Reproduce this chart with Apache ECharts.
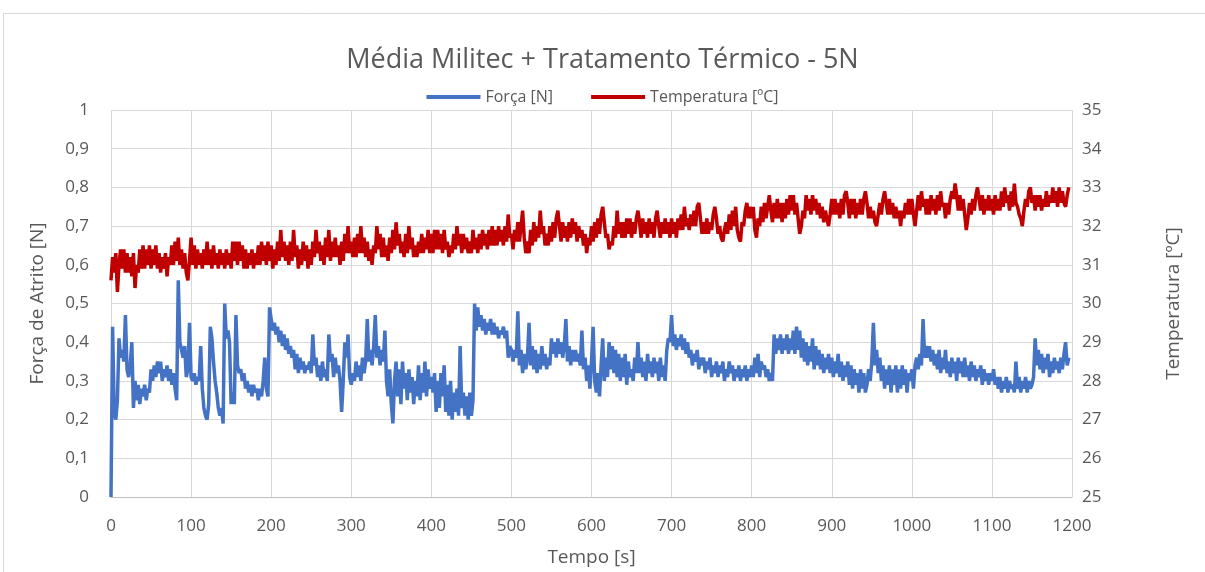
<!DOCTYPE html>
<html>
<head>
<meta charset="utf-8">
<script src="https://cdn.jsdelivr.net/npm/echarts@6/dist/echarts.min.js"></script>
<style>html,body{margin:0;padding:0;background:#fff}#c{width:1205px;height:572px}</style>
</head>
<body>
<div id="c"></div>
<script>
const title = 'Média Militec + Tratamento Térmico - 5N';
const seriesNames = ['Força [N]', 'Temperatura [ºC]'];
const timeStep = 2; // seconds between samples
const xTicks = [0, 1200, 100];
const leftAxis = [0, 1, 0.1];
const rightAxis = [25, 35, 1];
// Força [N], one value every 2 s (rows of 20 s)
const force = [
0,0.44,0.22,0.2,0.25,0.41,0.36,0.38,0.35,0.47,
0.33,0.31,0.34,0.4,0.23,0.3,0.25,0.29,0.24,0.28,
0.26,0.29,0.25,0.28,0.27,0.33,0.3,0.34,0.31,0.35,
0.32,0.35,0.3,0.33,0.31,0.34,0.3,0.33,0.29,0.32,
0.28,0.25,0.56,0.4,0.38,0.36,0.39,0.31,0.33,0.45,
0.31,0.3,0.32,0.29,0.31,0.3,0.39,0.28,0.23,0.21,
0.2,0.24,0.44,0.41,0.35,0.3,0.27,0.23,0.21,0.23,
0.19,0.5,0.41,0.43,0.4,0.24,0.27,0.24,0.47,0.34,
0.32,0.33,0.3,0.32,0.28,0.3,0.27,0.29,0.26,0.29,
0.27,0.28,0.25,0.28,0.26,0.3,0.36,0.28,0.26,0.49,
0.46,0.43,0.45,0.42,0.44,0.4,0.43,0.39,0.42,0.38,
0.41,0.37,0.39,0.36,0.38,0.33,0.37,0.32,0.36,0.33,
0.35,0.32,0.34,0.33,0.35,0.32,0.42,0.34,0.36,0.31,
0.34,0.3,0.35,0.31,0.33,0.3,0.42,0.35,0.37,0.31,
0.36,0.32,0.34,0.3,0.22,0.3,0.4,0.36,0.42,0.31,
0.29,0.32,0.3,0.35,0.31,0.34,0.3,0.36,0.32,0.35,
0.46,0.35,0.38,0.34,0.39,0.47,0.36,0.39,0.34,0.38,
0.35,0.43,0.3,0.26,0.33,0.24,0.19,0.3,0.35,0.26,
0.33,0.24,0.35,0.28,0.32,0.25,0.33,0.27,0.31,0.24,
0.3,0.26,0.34,0.25,0.32,0.27,0.35,0.26,0.33,0.28,
0.31,0.27,0.32,0.22,0.3,0.23,0.32,0.26,0.34,0.22,
0.29,0.21,0.3,0.2,0.27,0.22,0.28,0.21,0.39,0.23,
0.27,0.21,0.26,0.2,0.27,0.21,0.25,0.5,0.43,0.49,
0.44,0.47,0.43,0.46,0.42,0.45,0.43,0.46,0.42,0.45,
0.42,0.44,0.41,0.43,0.42,0.44,0.41,0.43,0.36,0.39,
0.38,0.35,0.38,0.36,0.48,0.34,0.38,0.32,0.37,0.33,
0.36,0.45,0.34,0.39,0.33,0.38,0.32,0.37,0.33,0.39,
0.34,0.37,0.33,0.36,0.34,0.41,0.37,0.4,0.36,0.41,
0.37,0.4,0.36,0.39,0.46,0.35,0.39,0.34,0.38,0.35,
0.38,0.35,0.37,0.34,0.43,0.33,0.36,0.3,0.34,0.28,
0.35,0.44,0.3,0.27,0.32,0.26,0.34,0.41,0.3,0.36,
0.31,0.4,0.33,0.39,0.32,0.38,0.31,0.37,0.3,0.36,
0.31,0.37,0.29,0.35,0.31,0.33,0.3,0.36,0.32,0.4,
0.32,0.36,0.31,0.35,0.3,0.37,0.32,0.35,0.31,0.36,
0.32,0.35,0.3,0.36,0.31,0.34,0.3,0.38,0.41,0.4,
0.47,0.39,0.42,0.38,0.41,0.39,0.42,0.38,0.41,0.37,
0.4,0.36,0.38,0.34,0.37,0.35,0.38,0.33,0.36,0.34,
0.36,0.32,0.35,0.33,0.36,0.31,0.34,0.32,0.35,0.31,
0.34,0.32,0.35,0.3,0.33,0.31,0.35,0.32,0.34,0.3,
0.33,0.31,0.34,0.3,0.33,0.31,0.34,0.3,0.33,0.31,
0.34,0.31,0.36,0.32,0.37,0.31,0.35,0.33,0.34,0.31,
0.33,0.3,0.32,0.3,0.42,0.37,0.41,0.38,0.42,0.37,
0.41,0.38,0.42,0.37,0.41,0.38,0.43,0.37,0.44,0.38,
0.43,0.36,0.41,0.35,0.4,0.34,0.39,0.35,0.41,0.33,
0.39,0.34,0.38,0.33,0.37,0.32,0.36,0.33,0.37,0.32,
0.36,0.31,0.35,0.32,0.37,0.31,0.35,0.3,0.34,0.31,
0.35,0.29,0.34,0.28,0.33,0.29,0.32,0.27,0.33,0.28,
0.32,0.27,0.29,0.33,0.3,0.35,0.45,0.34,0.38,0.32,
0.36,0.3,0.34,0.28,0.33,0.29,0.34,0.27,0.33,0.29,
0.34,0.27,0.33,0.28,0.34,0.29,0.33,0.27,0.32,0.3,
0.33,0.28,0.34,0.36,0.33,0.37,0.34,0.46,0.36,0.39,
0.36,0.39,0.35,0.38,0.34,0.37,0.33,0.38,0.32,0.36,
0.33,0.38,0.32,0.35,0.31,0.36,0.32,0.35,0.3,0.36,
0.32,0.35,0.31,0.36,0.31,0.34,0.3,0.35,0.31,0.34,
0.3,0.33,0.31,0.34,0.29,0.33,0.3,0.32,0.29,0.32,
0.3,0.33,0.29,0.31,0.28,0.31,0.27,0.3,0.28,0.31,
0.27,0.3,0.28,0.29,0.27,0.35,0.28,0.31,0.27,0.3,
0.28,0.31,0.27,0.3,0.28,0.29,0.31,0.41,0.34,0.38,
0.33,0.37,0.32,0.36,0.33,0.37,0.31,0.35,0.32,0.36,
0.33,0.35,0.32,0.36,0.33,0.37,0.4,0.34,0.36
];
// Temperatura [ºC], one value every 2 s (rows of 20 s)
const temperature = [
30.6,31.2,30.8,31.3,30.3,31.0,31.4,30.9,31.4,30.8,
31.3,30.8,31.2,30.7,31.3,30.4,31.0,30.8,31.4,30.9,
31.5,30.9,31.4,31.0,31.5,30.9,31.4,31.0,31.5,30.9,
31.3,30.8,31.2,30.9,31.3,30.7,31.2,31.0,31.5,31.0,
31.6,31.1,31.7,31.0,31.4,30.9,31.3,30.8,30.6,31.1,
31.7,31.0,31.5,30.9,31.4,31.0,31.3,30.9,31.4,31.0,
31.6,31.0,31.4,30.9,31.5,31.0,31.3,30.9,31.4,31.0,
31.3,30.9,31.4,31.0,31.3,30.9,31.6,31.1,31.6,31.0,
31.6,31.1,31.5,30.9,31.4,30.9,31.3,31.0,31.4,30.9,
31.3,31.0,31.5,31.0,31.6,31.1,31.5,31.0,31.6,31.1,
31.5,30.9,31.4,31.0,31.6,31.1,31.9,31.2,31.6,31.1,
31.5,31.0,31.6,31.1,31.9,31.2,31.5,30.9,31.4,31.0,
31.6,31.1,31.5,30.9,31.4,31.0,31.6,31.2,31.9,31.3,
31.6,31.1,31.5,31.0,31.7,31.2,31.9,31.1,31.6,31.2,
31.7,31.2,31.5,31.0,31.6,31.1,31.8,31.3,32.0,31.3,
31.6,31.2,31.7,31.2,31.8,31.3,32.0,31.3,31.7,31.2,
31.6,31.1,31.4,31.0,31.5,31.3,32.0,31.4,31.8,31.2,
31.7,31.2,31.5,31.1,31.7,31.3,31.9,31.4,32.1,31.5,
31.8,31.3,31.6,31.2,31.8,31.3,32.0,31.4,31.7,31.2,
31.5,31.2,31.6,31.3,31.8,31.3,31.7,31.4,31.9,31.3,
31.8,31.3,31.9,31.4,31.9,31.4,31.8,31.3,31.9,31.4,
31.6,31.2,31.5,31.3,31.8,31.4,32.0,31.5,31.8,31.3,
31.8,31.4,31.7,31.3,31.6,31.3,31.9,31.4,31.7,31.3,
31.8,31.4,31.9,31.5,31.8,31.4,31.9,31.5,32.0,31.5,
31.9,31.5,32.0,31.6,31.9,31.5,32.0,31.6,32.3,31.7,
31.8,31.4,31.9,31.6,32.1,31.6,32.0,32.4,31.7,31.3,
31.6,31.3,31.9,31.5,32.1,31.6,32.0,31.7,32.4,31.8,
32.0,31.5,31.8,31.5,32.0,31.6,32.1,31.7,32.2,32.4,
32.0,31.6,32.1,31.7,32.0,31.6,32.1,31.7,32.2,31.8,
32.1,31.6,32.0,31.7,31.9,31.5,31.8,31.3,31.7,31.5,
32.0,31.6,32.1,31.7,32.2,31.8,32.3,32.5,32.1,31.7,
31.8,31.4,31.6,31.5,32.0,31.7,32.4,31.8,32.1,31.7,
32.1,31.7,32.2,31.8,32.2,31.7,32.1,31.8,32.2,32.4,
32.1,31.7,32.2,31.8,32.1,31.7,32.2,31.8,32.1,31.7,
32.2,32.4,32.0,31.7,32.1,31.8,32.2,31.8,32.1,31.7,
32.2,31.8,32.1,31.7,32.2,31.9,32.3,31.9,32.5,32.0,
32.2,31.9,32.3,32.0,32.4,32.0,32.5,32.6,32.2,31.8,
32.1,31.8,32.2,31.8,32.1,31.9,32.3,32.5,32.2,31.8,
32.0,31.7,31.6,31.9,32.1,31.8,32.3,31.9,32.4,32.0,
32.5,31.9,31.7,31.6,32.1,32.0,32.4,32.6,32.2,32.5,
32.2,32.5,31.9,31.7,32.2,32.0,32.5,32.1,32.6,32.2,
32.5,32.8,32.4,32.1,32.6,32.2,32.7,32.2,32.6,32.1,
32.6,32.2,32.7,32.3,32.8,32.4,32.8,32.3,32.6,32.2,
31.8,32.0,32.4,32.2,32.8,32.4,32.7,32.3,32.8,32.4,
32.7,32.3,32.6,32.2,32.5,32.1,32.4,32.2,32.0,32.3,
32.7,32.3,32.7,32.3,32.6,32.2,32.7,32.3,32.8,32.9,
32.6,32.2,32.7,32.3,32.7,32.2,32.6,32.3,32.7,32.3,
32.7,32.9,32.6,32.2,32.5,32.2,32.4,32.1,32.0,32.3,
32.6,32.3,32.7,32.9,32.6,32.3,32.7,32.3,32.6,32.2,
32.5,32.2,32.4,32.0,32.4,32.2,32.6,32.3,32.7,32.3,
32.7,32.3,32.0,32.4,32.8,32.4,32.9,32.5,32.7,32.3,
32.7,32.3,32.8,32.4,32.7,32.3,32.8,32.4,32.9,32.5,
32.6,32.2,32.6,32.3,32.7,32.9,32.7,33.1,32.8,32.4,
32.8,32.4,32.7,32.3,31.9,32.2,32.6,32.3,32.7,32.4,
32.8,33.0,32.7,32.4,32.8,32.3,32.7,32.4,32.8,32.4,
32.7,32.3,32.8,32.4,32.7,32.4,32.9,32.5,33.0,32.6,
32.8,32.4,32.9,32.5,33.1,32.6,32.5,32.3,32.2,32.0,
32.4,32.7,32.5,32.9,33.0,32.6,32.8,32.4,32.8,32.5,
32.8,32.4,32.7,32.5,32.9,32.5,32.8,32.6,33.0,32.6,
32.9,32.5,33.0,32.6,32.9,32.6,32.5,32.8,33.0
];

const toPairs = arr => arr.map((v, i) => [i * timeStep, v]);
const comma = v => String(Math.round(v * 10) / 10).replace('.', ',');
const FONT = '"Open Sans", "Noto Sans", sans-serif';
const TXT = '#595959';

const chart = echarts.init(document.getElementById('c'), null, {renderer: 'canvas'});
chart.setOption({
  animation: false,
  backgroundColor: '#fff',
  textStyle: {fontFamily: FONT},
  graphic: [{
    type: 'rect', shape: {x: 3.5, y: 13.5, width: 1300, height: 700},
    style: {fill: 'none', stroke: '#d9d9d9', lineWidth: 1}, silent: true, z: -10
  }],
  title: {
    text: title, left: 'center', top: 42,
    textStyle: {fontFamily: FONT, fontSize: 27, fontWeight: 'normal', color: TXT}
  },
  legend: {
    top: 84, left: 'center', itemWidth: 54, itemHeight: 4, itemGap: 38,
    icon: 'rect',
    textStyle: {fontFamily: FONT, fontSize: 16, color: TXT},
    data: seriesNames
  },
  grid: {left: 111, right: 133, top: 110, bottom: 72},
  xAxis: {
    type: 'value', min: xTicks[0], max: xTicks[1], interval: xTicks[2],
    name: 'Tempo [s]', nameLocation: 'middle', nameGap: 51,
    nameTextStyle: {fontFamily: FONT, fontSize: 19, color: TXT},
    axisLine: {show: true, lineStyle: {color: '#bfbfbf', width: 1}},
    axisTick: {show: false},
    axisLabel: {fontFamily: FONT, fontSize: 17, color: TXT, margin: 21, formatter: v => String(v)},
    splitLine: {show: true, lineStyle: {color: '#d9d9d9', width: 1}}
  },
  yAxis: [{
    type: 'value', min: leftAxis[0], max: leftAxis[1], interval: leftAxis[2],
    name: 'Força de Atrito [N]', nameLocation: 'middle', nameGap: 64, nameRotate: 90,
    nameTextStyle: {fontFamily: FONT, fontSize: 19, color: TXT},
    axisLine: {show: false}, axisTick: {show: false},
    axisLabel: {fontFamily: FONT, fontSize: 17, color: TXT, margin: 22, formatter: comma},
    splitLine: {show: true, lineStyle: {color: '#d9d9d9', width: 1}}
  }, {
    type: 'value', min: rightAxis[0], max: rightAxis[1], interval: rightAxis[2],
    name: 'Temperatura [ºC]', nameLocation: 'middle', nameGap: 92, nameRotate: 90,
    nameTextStyle: {fontFamily: FONT, fontSize: 19, color: TXT},
    axisLine: {show: false}, axisTick: {show: false},
    axisLabel: {fontFamily: FONT, fontSize: 17, color: TXT, margin: 10},
    splitLine: {show: false}
  }],
  series: [{
    name: seriesNames[0], type: 'line', yAxisIndex: 0, showSymbol: false,
    data: toPairs(force), lineStyle: {color: '#4472C4', width: 3.5}, itemStyle: {color: '#4472C4'}, z: 3
  }, {
    name: seriesNames[1], type: 'line', yAxisIndex: 1, showSymbol: false,
    data: toPairs(temperature), lineStyle: {color: '#C00000', width: 3.5}, itemStyle: {color: '#C00000'}, z: 2
  }]
});
</script>
</body>
</html>
